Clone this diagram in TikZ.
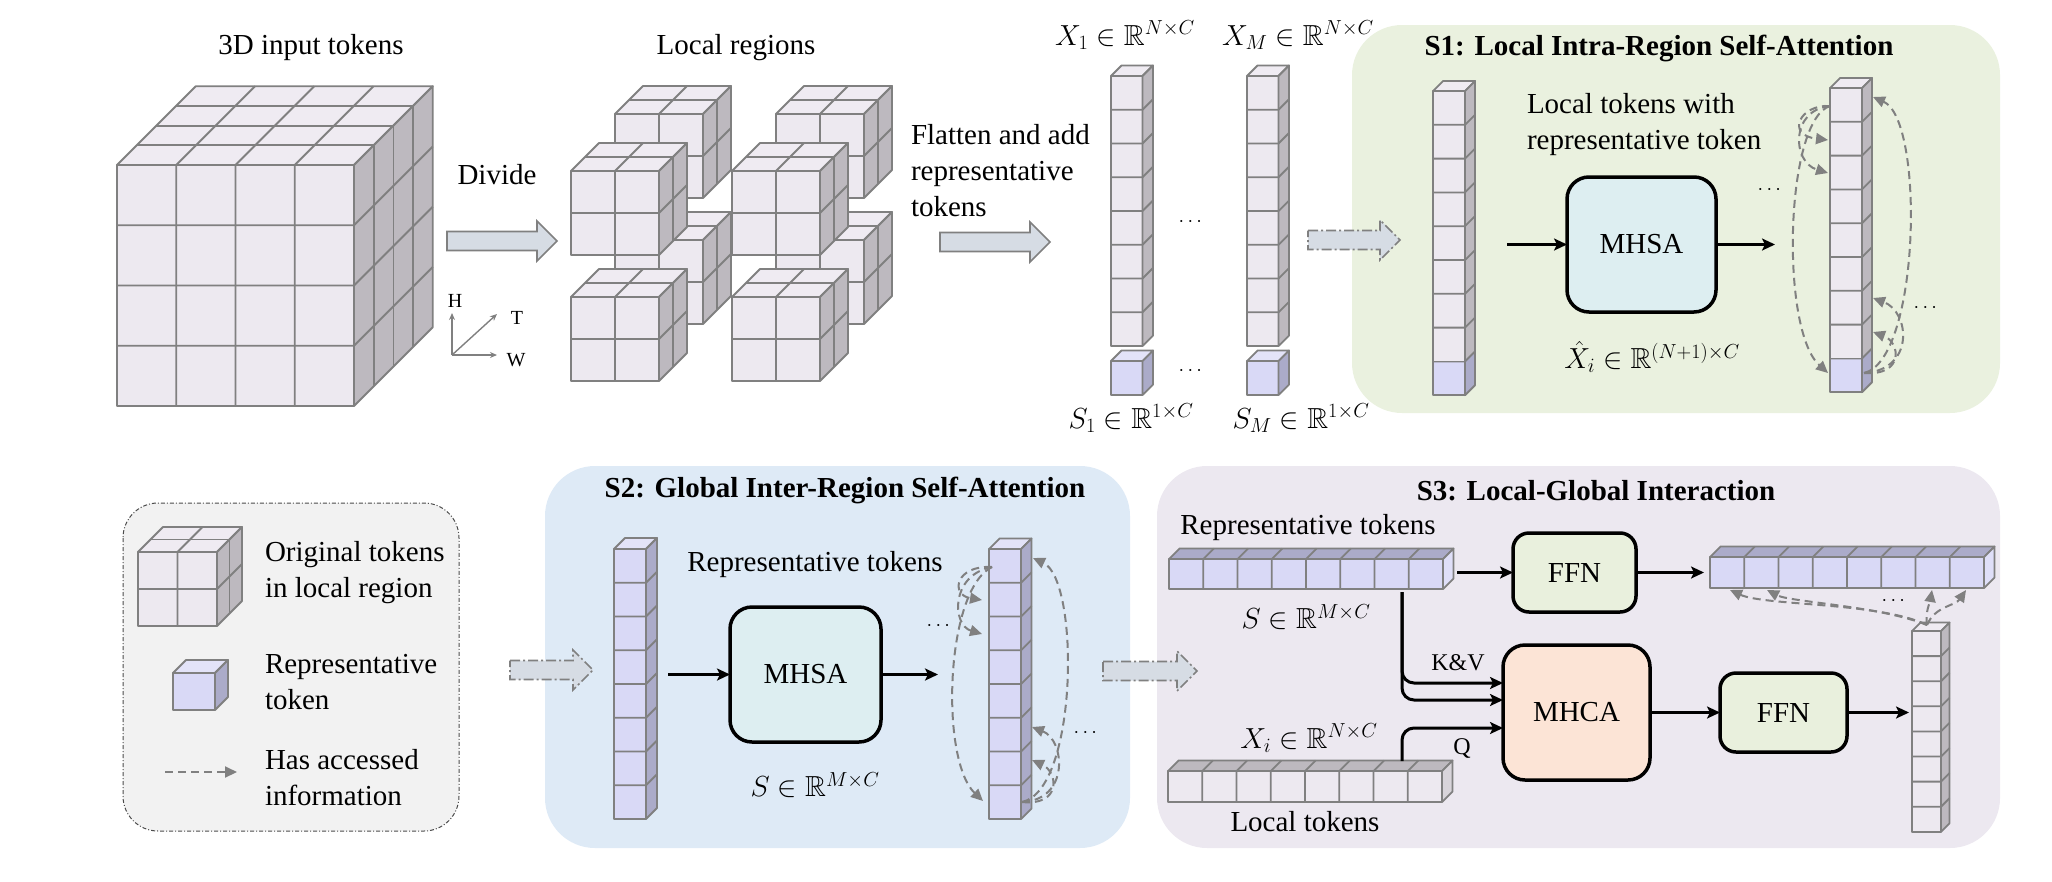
\RequirePackage{fix-cm}
\documentclass[tikz,border=0pt]{standalone}
\usepackage{amsmath,amssymb}
\usepackage[no-math]{fontspec}
\setmainfont{Liberation Serif}
\usetikzlibrary{arrows.meta,calc}

\definecolor{tokF}{HTML}{EDE9F0}
\definecolor{tokT}{HTML}{EFEBF2}
\definecolor{tokS}{HTML}{BDB9BF}
\definecolor{tokM}{HTML}{D8D4DA}
\definecolor{repF}{HTML}{D9D9F6}
\definecolor{repT}{HTML}{E3E3F8}
\definecolor{repS}{HTML}{ABABC9}
\definecolor{repL}{HTML}{DFDFF8}
\definecolor{edgec}{HTML}{808080}
\definecolor{arrF}{HTML}{D6DCE4}
\definecolor{panA}{HTML}{EAF1DF}
\definecolor{panB}{HTML}{DEEAF6}
\definecolor{panC}{HTML}{ECE8F0}
\definecolor{legF}{HTML}{F2F2F2}
\definecolor{mhsaF}{HTML}{DDEEF1}
\definecolor{ffnF}{HTML}{E9F0DD}
\definecolor{mhcaF}{HTML}{FCE4D6}

\newcommand{\setcols}[3]{\def\cF{#1}\def\cT{#2}\def\cS{#3}}
% \blk{x}{y}{nx}{ny}{nz}{cw}{ch}{d}
\newcommand{\blk}[8]{%
 \pgfmathsetmacro\bx{#1}\pgfmathsetmacro\by{#2}%
 \pgfmathsetmacro\bW{#3*#6}\pgfmathsetmacro\bH{#4*#7}\pgfmathsetmacro\bD{#5*#8}%
 \filldraw[fill=\cF,cubeln] (\bx,\by) rectangle ++(\bW,\bH);
 \filldraw[fill=\cT,cubeln] (\bx,\by) -- ++(\bD,-\bD) -- ++(\bW,0) -- ++(-\bD,\bD) -- cycle;
 \filldraw[fill=\cS,cubeln] ({\bx+\bW},\by) -- ++(\bD,-\bD) -- ++(0,\bH) -- ++(-\bD,\bD) -- cycle;
 \ifnum#3>1 \foreach \i in {2,...,#3}{\draw[cubeln] ({\bx+(\i-1)*#6},{\by+\bH}) -- ({\bx+(\i-1)*#6},\by) -- ++(\bD,-\bD);}\fi
 \ifnum#4>1 \foreach \j in {2,...,#4}{\draw[cubeln] (\bx,{\by+(\j-1)*#7}) -- ++(\bW,0) -- ++(\bD,-\bD);}\fi
 \ifnum#5>1 \foreach \k in {2,...,#5}{\draw[cubeln] ({\bx+(\k-1)*#8},{\by-(\k-1)*#8}) -- ++(\bW,0) -- ++(0,\bH);}\fi
}
% block arrow: style, x1, x2, yc
\newcommand{\barr}[4]{%
 \draw[#1] (#2,#4-9.5) -- (#3-20,#4-9.5) -- (#3-20,#4-20) -- (#3,#4) -- (#3-20,#4+20) -- (#3-20,#4+9.5) -- (#2,#4+9.5) -- cycle;}

\begin{document}
\begin{tikzpicture}[x=1pt,y=-1pt,
  every node/.style={font=\fontsize{29}{36}\selectfont, inner sep=0pt, outer sep=0pt},
  ttl/.style={font=\fontsize{29}{36}\selectfont\bfseries},
  smalltxt/.style={font=\fontsize{20}{24}\selectfont},
  dotstxt/.style={font=\fontsize{20}{24}\selectfont},
  kvtxt/.style={font=\fontsize{24}{28}\selectfont},
  panel/.style={rounded corners=50pt},
  cubeln/.style={draw=edgec,line width=1.8pt,line join=round},
  arr/.style={line width=3pt,-{Stealth[length=13pt,width=12pt,inset=3pt]}},
  dsh/.style={draw=edgec,line width=2pt,dash pattern=on 8pt off 5pt,-{Triangle[length=12pt,width=11pt,fill=edgec]}},
  axln/.style={draw=edgec,line width=1.4pt,-{Stealth[length=7pt,width=6pt]}},
  opbox/.style={draw=black,line width=3.5pt,rounded corners=22pt,minimum width=149pt,minimum height=135pt},
  smbox/.style={draw=black,line width=3.5pt,rounded corners=16pt,minimum height=79pt},
  barrow/.style={fill=arrF,draw=edgec,line width=1.6pt},
  dbarrow/.style={fill=arrF,draw=edgec,line width=1.6pt,dash pattern=on 10pt off 3pt on 2pt off 3pt},
]
\useasboundingbox (0,0) rectangle (2052,881);

% ---------- panels ----------
\fill[panA,panel] (1352,25) rectangle (2000,413);
\fill[panB,panel] (545,466) rectangle (1130,848);
\fill[panC,panel] (1157,466) rectangle (2000,848);
\draw[fill=legF,draw=black!70,line width=1pt,dash pattern=on 4pt off 2pt on 1pt off 2pt,rounded corners=35pt] (123,503) rectangle (459,831);

% ---------- 3D input tokens ----------
\node (t3d) at (311,48) {3D input tokens};
\setcols{tokF}{tokT}{tokS}
\blk{117}{165}{4}{4}{4}{59.25}{60.25}{19.7}

% axes
\coordinate (ax0) at (452,355);
\coordinate (axH) at (452,313);
\coordinate (axW) at (497,355);
\coordinate (axT) at (497,314);
\draw[axln] (ax0) -- (axH);
\draw[axln] (ax0) -- (axW);
\draw[axln] (ax0) -- (axT);
\node[smalltxt] (lH) at (455,301) {H};
\node[smalltxt] (lT) at (517,318) {T};
\node[smalltxt] (lW) at (516,360) {W};

% divide
\node (tdiv) at (497,175) {Divide};
\barr{barrow}{447}{557}{241}

% ---------- local regions ----------
\node (tlr) at (736,48) {Local regions};
\blk{615}{114}{2}{2}{2}{44}{42}{14}
\blk{776}{114}{2}{2}{2}{44}{42}{14}
\blk{615}{240}{2}{2}{2}{44}{42}{14}
\blk{776}{240}{2}{2}{2}{44}{42}{14}
\blk{571}{171}{2}{2}{2}{44}{42}{14}
\blk{732}{171}{2}{2}{2}{44}{42}{14}
\blk{571}{297}{2}{2}{2}{44}{42}{14}
\blk{732}{297}{2}{2}{2}{44}{42}{14}

% flatten
\node[align=left,anchor=west] (tflat) at (911,171) {Flatten and add\\representative\\tokens};
\barr{barrow}{940}{1050}{242}

% ---------- flattened columns ----------
\node (lx1) at (1125,35) {$X_1\in\mathbb{R}^{N\times C}$};
\node (lxm) at (1298,35) {$X_M\in\mathbb{R}^{N\times C}$};
\node (ls1) at (1131,418) {$S_1\in\mathbb{R}^{1\times C}$};
\node (lsm) at (1301,418) {$S_M\in\mathbb{R}^{1\times C}$};
\setcols{tokF}{tokT}{tokS}
\blk{1111}{76}{1}{8}{1}{31.5}{33.75}{10.5}
\blk{1247}{76}{1}{8}{1}{31.5}{33.75}{10.5}
\setcols{repF}{repT}{repS}
\blk{1111}{361}{1}{1}{1}{31.5}{34}{10.5}
\blk{1247}{361}{1}{1}{1}{31.5}{34}{10.5}
\node[dotstxt] (d1) at (1192,222) {$\cdots$};
\node[dotstxt] (d2) at (1192,371) {$\cdots$};

\barr{dbarrow}{1308}{1400}{240}

% ---------- S1 ----------
\node[ttl] (ts1) at (1659,48) {S1: Local Intra-Region Self-Attention};
\setcols{repF}{repT}{repS}
\blk{1433}{361.4}{1}{1}{1}{32}{33.8}{10}
\setcols{tokF}{tokT}{tokS}
\blk{1433}{91}{1}{8}{1}{32}{33.8}{10}
\setcols{repF}{repT}{repS}
\blk{1830}{358.4}{1}{1}{1}{32}{33.8}{10}
\setcols{tokF}{tokT}{tokS}
\blk{1830}{88}{1}{8}{1}{32}{33.8}{10}

\node[align=left,anchor=west] (tlt) at (1527,124.5) {Local tokens with\\representative token};
\node[opbox,fill=mhsaF] (mhsa1) at (1641.5,244.5) {MHSA};
\node (lxh) at (1652,357) {$\hat{X}_i\in\mathbb{R}^{(N+1)\times C}$};
\coordinate (s1a) at (1507,244.5);
\coordinate (s1b) at (1775,244.5);
\draw[arr] (s1a) -- (mhsa1.west);
\draw[arr] (mhsa1.east) -- (s1b);
\node[dotstxt] (d3) at (1771,190) {$\cdots$};
\node[dotstxt] (d4) at (1927,308) {$\cdots$};

\coordinate (a1) at (1830,106);
\draw[dsh] (a1) .. controls (1800,104) and (1785,135) .. (1828,140);
\draw[dsh] (a1) .. controls (1790,110) and (1792,162) .. (1828,173);
\draw[dsh] (a1) .. controls (1785,120) and (1780,330) .. (1828,373);
\coordinate (b1) at (1864,373);
\draw[dsh] (b1) .. controls (1920,360) and (1925,120) .. (1873,97);
\draw[dsh] (b1) .. controls (1915,370) and (1910,312) .. (1873,298);
\draw[dsh] (b1) .. controls (1905,376) and (1900,342) .. (1873,332);

% ---------- S2 ----------
\barr{dbarrow}{510}{593}{670}
\node[ttl] (ts2) at (845,490) {S2: Global Inter-Region Self-Attention};
\setcols{repF}{repT}{repS}
\blk{614}{549}{1}{8}{1}{32}{33.75}{11}
\blk{989}{549}{1}{8}{1}{32}{33.75}{10.5}
\node (trt2) at (815,565) {Representative tokens};
\node[opbox,fill=mhsaF,minimum width=151pt] (mhsa2) at (805.5,674.5) {MHSA};
\node (ls2) at (815,785) {$S\in\mathbb{R}^{M\times C}$};
\coordinate (s2a) at (668,674.5);
\coordinate (s2b) at (938,674.5);
\draw[arr] (s2a) -- (mhsa2.west);
\draw[arr] (mhsa2.east) -- (s2b);
\node[dotstxt] (d5) at (940,626) {$\cdots$};
\node[dotstxt] (d6) at (1087,733) {$\cdots$};

\coordinate (a2) at (992,567);
\draw[dsh] (a2) .. controls (955,565) and (950,595) .. (982,600);
\draw[dsh] (a2) .. controls (950,575) and (952,625) .. (982,634);
\draw[dsh] (a2) .. controls (945,590) and (940,760) .. (983,801);
\coordinate (b2) at (1022,802);
\draw[dsh] (b2) .. controls (1078,790) and (1080,580) .. (1033,558);
\draw[dsh] (b2) .. controls (1070,800) and (1065,740) .. (1032,727);
\draw[dsh] (b2) .. controls (1062,806) and (1058,772) .. (1032,760);

\barr{dbarrow}{1103}{1197}{671}

% ---------- S3 ----------
\node[ttl] (ts3) at (1596,491) {S3: Local-Global Interaction};
\node (trt3) at (1308,528) {Representative tokens};
\setcols{repF}{repS}{repL}
\blk{1169}{559}{8}{1}{1}{34.25}{30}{10.5}
\node (ls3) at (1306,617) {$S\in\mathbb{R}^{M\times C}$};
\node (lx3) at (1309,738) {$X_i\in\mathbb{R}^{N\times C}$};
\setcols{tokF}{tokS}{tokM}
\blk{1168}{771}{8}{1}{1}{34.25}{31}{10.5}
\node (tlt3) at (1305,822) {Local tokens};

\node[smbox,fill=ffnF,minimum width=123pt] (ffn1) at (1574.5,572.5) {FFN};
\node[opbox,fill=mhcaF,minimum width=147pt] (mhca) at (1576.5,712.5) {MHCA};
\node[smbox,fill=ffnF,minimum width=127pt] (ffn2) at (1783.5,712.5) {FFN};
\node[kvtxt] (tkv) at (1458,663) {K\&V};
\node[kvtxt] (tq) at (1462,748) {Q};

\setcols{repF}{repS}{repL}
\blk{1710}{557}{8}{1}{1}{34.25}{31}{10.5}
\setcols{tokF}{tokT}{tokS}
\blk{1912}{631}{1}{8}{1}{29}{25.1}{8.5}

\coordinate (r3a) at (1457,572.5);
\coordinate (r3b) at (1704,572.5);
\draw[arr] (r3a) -- (ffn1.west);
\draw[arr] (ffn1.east) -- (r3b);
\draw[arr] (mhca.east) -- (ffn2.west);
\coordinate (c3) at (1909,712.5);
\draw[arr] (ffn2.east) -- (c3);

\coordinate (kvs) at (1402,592);
\coordinate (kva) at (1402,683);
\coordinate (kvb) at (1402,700);
\draw[arr,rounded corners=12pt] (kvs) -- (kva) -- (mhca.west |- kva);
\draw[arr,rounded corners=12pt] (kvs) -- (kvb) -- (mhca.west |- kvb);
\coordinate (qs) at (1402,761);
\coordinate (qa) at (1402,728);
\draw[arr,rounded corners=12pt] (qs) -- (qa) -- (mhca.west |- qa);

\coordinate (c3t) at (1927,625);
\draw[dsh] (c3t) .. controls (1880,602) and (1765,606) .. (1730,590);
\draw[dsh] (c3t) .. controls (1880,606) and (1790,602) .. (1767,590);
\draw[dsh] (c3t) .. controls (1925,612) and (1930,602) .. (1932,590);
\draw[dsh] (c3t) .. controls (1935,606) and (1955,606) .. (1966,590);
\node[dotstxt] (d7) at (1895,601) {$\cdots$};

% ---------- legend ----------
\setcols{tokF}{tokT}{tokS}
\blk{138}{552}{2}{2}{2}{39.5}{37}{12.5}
\setcols{repF}{repT}{repS}
\blk{173}{673}{1}{1}{1}{42}{37}{13}
\node[align=left,anchor=west] (lg1) at (265,572.5) {Original tokens\\in local region};
\node[align=left,anchor=west] (lg2) at (265,682.5) {Representative\\token};
\node[align=left,anchor=west] (lg3) at (265,777.5) {Has accessed\\information};
\coordinate (lga) at (165,772);
\coordinate (lgb) at (237,772);
\draw[dsh] (lga) -- (lgb);
\end{tikzpicture}
\end{document}
